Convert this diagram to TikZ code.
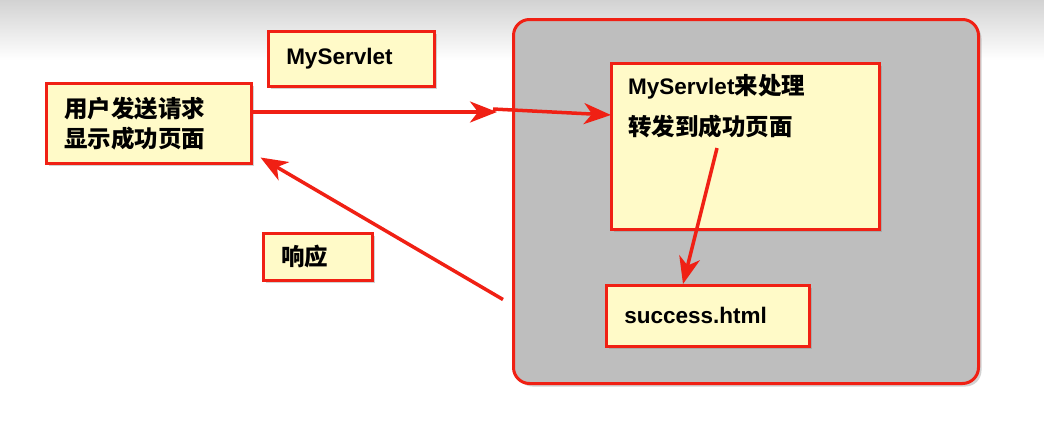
\documentclass[tikz,border=0pt]{standalone}
\usepackage{fontspec}
\setmainfont{Liberation Sans}
\newfontfamily\cjk{Noto Sans CJK SC}
\newcommand\zh[1]{{\cjk\fontsize{23.5}{30}\selectfont #1}}
\usetikzlibrary{arrows.meta,calc,shadows}

\definecolor{boxred}{RGB}{240,32,20}
\definecolor{noteyellow}{RGB}{255,250,200}
\definecolor{servergray}{RGB}{190,190,190}

\tikzset{
  note/.style={draw=boxred, fill=noteyellow, line width=2.5pt, anchor=north west,
    align=left, inner xsep=18pt, inner ysep=0pt,
    drop shadow={opacity=0.35, shadow xshift=3pt, shadow yshift=-3pt}},
  flow/.style={draw=boxred, line width=3.5pt, -{Stealth[length=27pt,width=21pt,inset=8pt]}},
}

\begin{document}
\begin{tikzpicture}[x=1pt, y=-1pt, font=\fontsize{22.5}{30}\selectfont\bfseries]
        \useasboundingbox (0,0) rectangle (1044,434);
        \fill[white] (0,0) rectangle (1044,434);
        \shade[top color=gray!35, bottom color=white] (0,0) rectangle (1044,60);

        % server side
        \node[draw=boxred, fill=servergray, line width=3pt, rounded corners=16pt,
              anchor=north west, minimum width=465pt, minimum height=364pt,
              drop shadow={opacity=0.35, shadow xshift=3pt, shadow yshift=-3pt}]
              (server) at (512,18) {};

        \node[note, minimum width=268pt, minimum height=166pt,
              label={[name=proctext, anchor=north west, align=left, inner sep=0pt,
                      xshift=18pt, yshift=-12pt, font=\fontsize{22.5}{41}\selectfont\bfseries]
                      north west:{MyServlet\zh{来处理}\\\zh{转发到成功页面}}}]
              (proc) at (610,62) {};
        \node[note, text width=167pt, minimum height=61pt] (success) at (605,284) {success.html\\[-8pt]};

        % client side
        \node[note, text width=130pt, minimum height=55pt] (servlet) at (267,30) {MyServlet\\[-8pt]};
        \node[note, text width=169pt, minimum height=80pt] (user) at (45,82) {\zh{用户发送请求\\显示成功页面}};
        \node[note, text width=73pt, minimum height=47pt] (resp) at (262,232) {\zh{响应}};

        % request, forward, response
        \coordinate (gate) at (497,112);
        \coordinate (fwdfrom) at ($(proc.north west)+(107,86)$);
        \draw[flow] (user.east |- gate) -- (gate);
        \draw[flow] ($(gate)+(-4,-3)$) -- ($(proc.north west)+(1,53)$);
        \draw[flow] (fwdfrom) -- ($(success.north west)+(78,0)$);
        \draw[flow] ($(server.west)+(-9,98)$) -- ($(user.south east)+(8,-7)$);
\end{tikzpicture}
\end{document}
